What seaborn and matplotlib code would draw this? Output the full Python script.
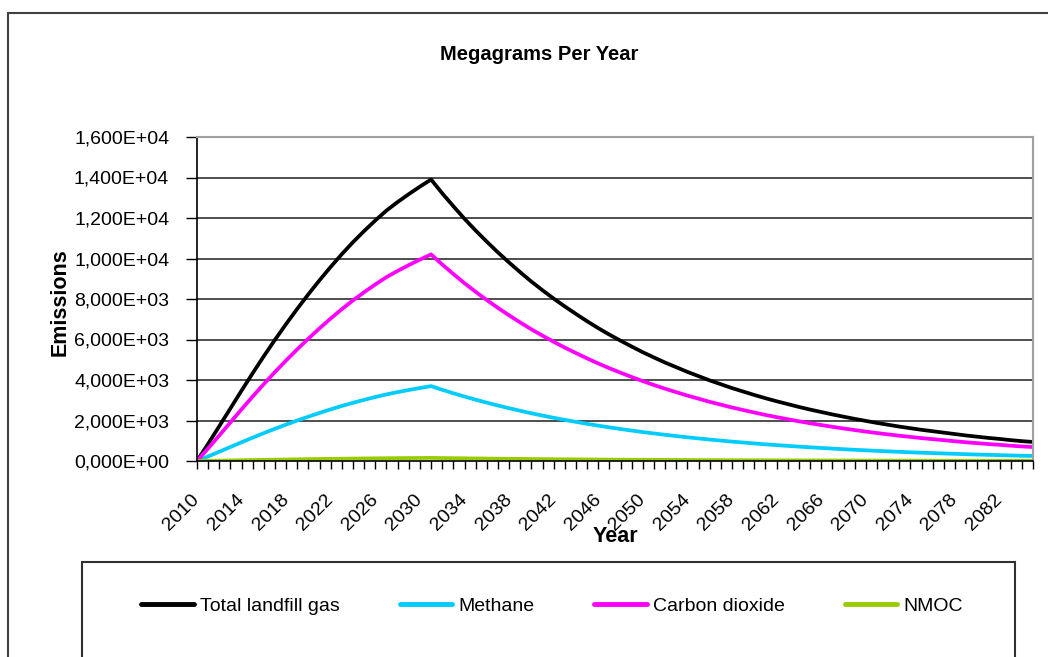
import pandas as pd
import matplotlib.pyplot as plt
import matplotlib.patches as mpatches
from matplotlib.ticker import FuncFormatter
import seaborn as sns

# ---------------------------------------------
# DATA (Mg per year)
# ---------------------------------------------
years = list(range(2010, 2086))

total_lfg = [0, 850, 1720, 2600, 3480, 4340, 5180, 5990, 6770, 7520,
             8240, 8930, 9590, 10220, 10810, 11360, 11880, 12370, 12790, 13180,
             13550, 13900, 13220, 12580, 11960, 11380, 10830, 10300, 9800, 9320,
             8860, 8430, 8020, 7630, 7260, 6900, 6560, 6240, 5940, 5650,
             5370, 5110, 4860, 4630, 4400, 4190, 3980, 3790, 3600, 3430,
             3260, 3100, 2950, 2810, 2670, 2540, 2420, 2300, 2190, 2080,
             1980, 1880, 1790, 1700, 1620, 1540, 1470, 1400, 1330, 1260,
             1200, 1140, 1090, 1030, 980, 940]

methane = [0, 226, 458, 692, 926, 1154, 1378, 1593, 1801, 2000,
           2192, 2375, 2551, 2719, 2875, 3022, 3160, 3290, 3402, 3506,
           3604, 3697, 3516, 3346, 3181, 3027, 2881, 2740, 2607, 2479,
           2357, 2242, 2133, 2030, 1931, 1835, 1745, 1660, 1580, 1503,
           1428, 1359, 1293, 1232, 1170, 1114, 1059, 1008, 958, 912,
           867, 825, 785, 747, 710, 676, 644, 612, 582, 553,
           527, 500, 476, 452, 431, 410, 391, 372, 354, 335,
           319, 303, 290, 274, 261, 250]

carbon_dioxide = [0, 624, 1262, 1908, 2554, 3186, 3802, 4397, 4969, 5520,
                  6048, 6555, 7039, 7501, 7935, 8338, 8720, 9080, 9388, 9674,
                  9946, 10203, 9704, 9234, 8779, 8353, 7949, 7560, 7193, 6841,
                  6503, 6188, 5887, 5600, 5329, 5065, 4815, 4580, 4360, 4147,
                  3942, 3751, 3567, 3398, 3230, 3076, 2921, 2782, 2642, 2518,
                  2393, 2275, 2165, 2063, 1960, 1864, 1776, 1688, 1608, 1527,
                  1453, 1380, 1314, 1248, 1189, 1130, 1079, 1028, 976, 925,
                  881, 837, 800, 756, 719, 690]

nmoc = [0, 9, 19, 29, 38, 48, 57, 66, 74, 83,
        91, 98, 105, 112, 119, 125, 131, 136, 141, 145,
        149, 153, 145, 138, 132, 125, 119, 113, 108, 103,
        97, 93, 88, 84, 80, 76, 72, 69, 65, 62,
        59, 56, 53, 51, 48, 46, 44, 42, 40, 38,
        36, 34, 32, 31, 29, 28, 27, 25, 24, 23,
        22, 21, 20, 19, 18, 17, 16, 15, 15, 14,
        13, 13, 12, 11, 11, 10]

series_names = ['Total landfill gas', 'Methane', 'Carbon dioxide', 'NMOC']
series_colors = ['#000000', '#00ccff', '#ff00ff', '#99cc00']
y_ticks = [0, 2000, 4000, 6000, 8000, 10000, 12000, 14000, 16000]
label_years = [y for y in years if (y - 2010) % 4 == 0]

df = pd.DataFrame({'Year': years,
                   'Total landfill gas': total_lfg,
                   'Methane': methane,
                   'Carbon dioxide': carbon_dioxide,
                   'NMOC': nmoc})
long_df = df.melt(id_vars='Year', var_name='Gas', value_name='Emissions')

# ---------------------------------------------
# PLOT
# ---------------------------------------------
sns.set_style('white')
plt.rcParams['font.family'] = ['Liberation Sans', 'DejaVu Sans']
plt.rcParams['text.color'] = 'black'
plt.rcParams['axes.labelcolor'] = 'black'

W, H = 1048, 657
fig = plt.figure(figsize=(W / 100, H / 100), dpi=100)
fig.patch.set_facecolor('white')
ax = fig.add_axes([197 / W, 1 - 461 / H, 836 / W, 324 / H])

# horizontal gridlines (not at the top border)
for v in y_ticks[1:-1]:
    ax.axhline(v, color='#303030', lw=1.2, zorder=0)

sns.lineplot(data=long_df, x='Year', y='Emissions', hue='Gas',
             hue_order=series_names, palette=series_colors,
             linewidth=2.7, ax=ax)

ax.set_xlim(years[0], years[-1])
ax.set_ylim(y_ticks[0], y_ticks[-1])
ax.set_yticks(y_ticks)
ax.yaxis.set_major_formatter(FuncFormatter(lambda v, p: f'{v:.3E}'.replace('.', ',')))
ax.set_xticks(years)
ax.set_xticklabels([str(y) if y in label_years else '' for y in years],
                   rotation=45, ha='right', va='center', rotation_mode='anchor')
ax.tick_params(axis='x', bottom=True, direction='out', length=6, width=1,
               pad=20, labelsize=14, colors='black')
ax.tick_params(axis='y', left=True, direction='out', length=8, width=1,
               pad=12, labelsize=14, colors='black')

for side in ['left', 'bottom']:
    ax.spines[side].set_color('black')
    ax.spines[side].set_linewidth(1.2)
for side in ['top', 'right']:
    ax.spines[side].set_color('#a0a0a0')
    ax.spines[side].set_linewidth(1.5)

ax.set_xlabel('Year', fontsize=15.5, fontweight='bold', color='black')
ax.xaxis.set_label_coords(0.5, (461 - 537) / 324)
ax.xaxis.label.set_va('center')
ax.set_ylabel('Emissions', fontsize=15.5, fontweight='bold', color='black')
ax.yaxis.set_label_coords((60 - 197) / 836, 0.49)
ax.yaxis.label.set_va('center')

fig.text(539 / W, 1 - 55 / H, 'Megagrams Per Year', ha='center', va='center',
         fontsize=14.5, fontweight='bold', color='black')

# legend below the plot, inside its own box
sns.move_legend(ax, 'center', bbox_to_anchor=(552 / W, 1 - 606 / H),
                bbox_transform=fig.transFigure, ncol=4, frameon=False,
                title=None, fontsize=14, handlelength=2.7, handletextpad=0.3,
                columnspacing=3.1, labelcolor='black')
for line in ax.get_legend().get_lines():
    line.set_linewidth(3.5)

fig.add_artist(mpatches.Rectangle((82 / W, -0.02), 933 / W, 1 - 562 / H + 0.02,
                                  transform=fig.transFigure, fill=False,
                                  ec='#303030', lw=1.5))
# outer chart frame
fig.add_artist(mpatches.Rectangle((8 / W, -0.05), 1.0, 1 - 13 / H + 0.05,
                                  transform=fig.transFigure, fill=False,
                                  ec='#404040', lw=1.5))

fig.savefig('out.png', dpi=100)
